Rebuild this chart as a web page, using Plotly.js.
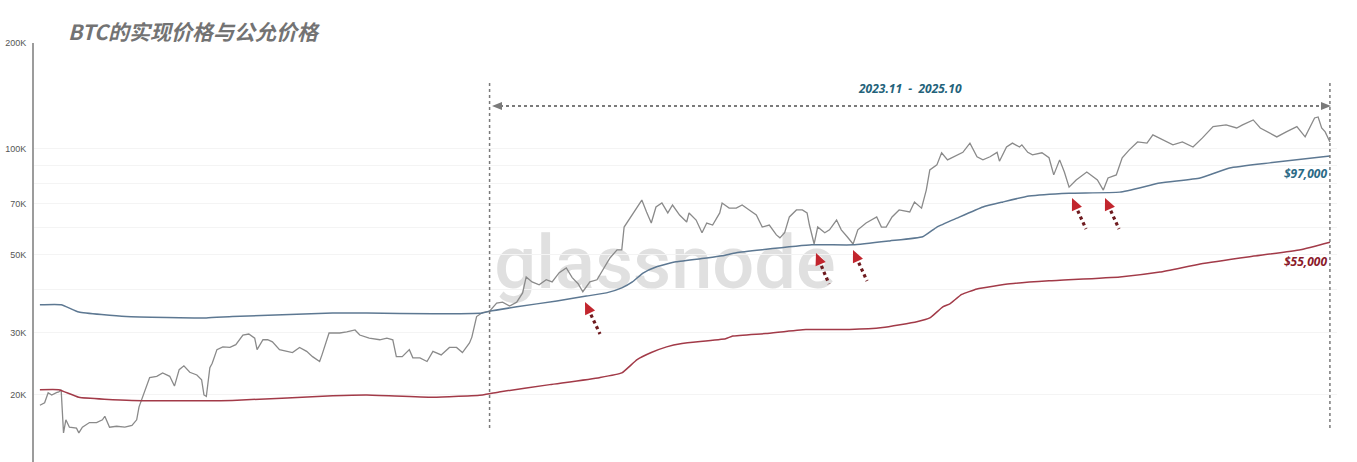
<!DOCTYPE html>
<html>
<head>
<meta charset="utf-8">
<script src="https://cdn.plot.ly/plotly-3.0.1.min.js"></script>
<style>
  html, body { margin: 0; padding: 0; background: #ffffff; }
  #chart { width: 1357px; height: 462px; }
</style>
</head>
<body>
<div id="chart"></div>
<script>
// ---------------- data ----------------
const chartTitle = 'BTC的实现价格与公允价格';
const periodLabel = '2023.11  -  2025.10';
const periodStart = '2023-11-06';
const periodEnd = '2025-10-18';

const yTickValues = [20000, 30000, 50000, 70000, 100000, 200000];
const yTickLabels = ['20K', '30K', '50K', '70K', '100K', '200K'];
const yGridValues = [20000, 30000, 40000, 50000, 60000, 70000, 80000, 90000, 100000, 200000];

// BTC price (grey)
const priceDates = [
  '2022-10-21','2022-10-25','2022-10-28','2022-10-31','2022-11-04','2022-11-06','2022-11-08','2022-11-09','2022-11-10','2022-11-12',
  '2022-11-15','2022-11-21','2022-11-23','2022-11-26','2022-12-02','2022-12-08','2022-12-13','2022-12-15','2022-12-19','2022-12-25',
  '2023-01-01','2023-01-07','2023-01-11','2023-01-13','2023-01-18','2023-01-22','2023-01-28','2023-02-02','2023-02-08','2023-02-12',
  '2023-02-16','2023-02-20','2023-02-25','2023-03-03','2023-03-07','2023-03-09','2023-03-11','2023-03-14','2023-03-16','2023-03-20',
  '2023-03-25','2023-03-31','2023-04-05','2023-04-11','2023-04-16','2023-04-21','2023-04-23','2023-04-28','2023-05-02','2023-05-06',
  '2023-05-12','2023-05-18','2023-05-23','2023-05-29','2023-06-04','2023-06-09','2023-06-15','2023-06-17','2023-06-23','2023-07-02',
  '2023-07-08','2023-07-15','2023-07-19','2023-07-27','2023-08-05','2023-08-11','2023-08-16','2023-08-19','2023-08-24','2023-08-30',
  '2023-09-02','2023-09-08','2023-09-14','2023-09-19','2023-09-26','2023-10-03','2023-10-09','2023-10-14','2023-10-20','2023-10-22',
  '2023-10-26','2023-10-31','2023-11-06','2023-11-12','2023-11-17','2023-11-23','2023-11-29','2023-12-04','2023-12-07','2023-12-12',
  '2023-12-18','2023-12-24','2023-12-29','2024-01-04','2024-01-10','2024-01-15','2024-01-20','2024-01-24','2024-01-30','2024-02-05',
  '2024-02-10','2024-02-16','2024-02-22','2024-02-26','2024-02-28','2024-03-04','2024-03-08','2024-03-10','2024-03-14','2024-03-18',
  '2024-03-22','2024-03-26','2024-03-31','2024-04-05','2024-04-09','2024-04-15','2024-04-21','2024-04-23','2024-04-29','2024-05-04',
  '2024-05-08','2024-05-13','2024-05-19','2024-05-21','2024-05-27','2024-06-02','2024-06-07','2024-06-13','2024-06-19','2024-06-24',
  '2024-06-30','2024-07-06','2024-07-09','2024-07-13','2024-07-17','2024-07-23','2024-07-28','2024-08-01','2024-08-03','2024-08-07',
  '2024-08-10','2024-08-16','2024-08-20','2024-08-26','2024-08-30','2024-09-04','2024-09-09','2024-09-13','2024-09-20','2024-09-29',
  '2024-10-03','2024-10-07','2024-10-12','2024-10-18','2024-10-27','2024-10-31','2024-11-06','2024-11-10','2024-11-13','2024-11-19',
  '2024-11-23','2024-11-28','2024-12-06','2024-12-11','2024-12-17','2024-12-23','2024-12-28','2025-01-03','2025-01-09','2025-01-11',
  '2025-01-17','2025-01-22','2025-01-28','2025-01-30','2025-02-04','2025-02-08','2025-02-16','2025-02-22','2025-02-26','2025-03-03',
  '2025-03-07','2025-03-11','2025-03-17','2025-03-26','2025-04-04','2025-04-09','2025-04-13','2025-04-20','2025-04-25','2025-05-01',
  '2025-05-08','2025-05-16','2025-05-21','2025-05-29','2025-06-07','2025-06-15','2025-06-24','2025-07-02','2025-07-11','2025-07-22',
  '2025-07-31','2025-08-05','2025-08-14','2025-08-20','2025-08-26','2025-09-03','2025-09-11','2025-09-20','2025-09-27','2025-10-01',
  '2025-10-05','2025-10-08','2025-10-11','2025-10-14','2025-10-18'
];
const priceValues = [
  18700,19000,20300,20000,20300,20400,20700,17900,15600,17000,
  16200,16100,15600,16200,16700,16700,17000,17400,16200,16300,
  16200,16400,17000,18500,20700,22400,22600,23100,22600,21200,
  23600,24200,23200,22800,22100,20000,19800,23900,24600,26900,
  27400,27300,27800,29600,29800,29000,26900,28700,28700,28300,
  26900,26600,26400,27300,26600,25700,24900,26000,30000,30000,
  30200,30600,29600,29000,28700,29000,28700,25700,25700,26900,
  25500,25500,24900,26600,26000,27300,27300,26400,28100,29200,
  33400,34300,34600,36500,36700,35800,36700,39000,43300,41900,
  41100,42500,41900,44500,45900,43100,41400,39300,41900,42500,
  45300,49000,51700,51700,60000,63600,67100,68400,71600,66200,
  61600,68400,70200,65800,69300,64900,62000,65800,62800,57800,
  61600,60800,65800,70200,67900,67900,69300,67100,64900,60000,
  60800,57000,55900,57800,64100,67100,67100,65800,60800,53700,
  60000,57800,58900,62800,58900,56300,53700,58900,61600,64100,
  60000,60000,64100,67100,66200,70700,67900,76400,87200,90100,
  97500,93100,96200,97800,103900,95000,93100,95000,97800,92300,
  101300,103900,101300,102700,97800,96200,97500,94400,84400,93100,
  86000,77900,81600,86000,81600,76400,82700,84400,94400,99400,
  104700,103900,109600,106100,102700,104700,101300,107500,115700,117000,
  114700,117000,120900,114700,111800,108200,111800,115700,108200,115700,
  122500,123300,114700,111800,104700
];

// fair price (blue)
const fairDates = [
  '2022-10-21','2022-11-08','2022-11-23','2023-01-02','2023-03-11','2023-04-02','2023-06-26','2023-07-25','2023-09-19','2023-10-31',
  '2023-11-06','2023-11-29','2024-01-02','2024-01-27','2024-02-13','2024-02-26','2024-03-06','2024-03-15','2024-03-26','2024-04-12',
  '2024-05-08','2024-05-21','2024-06-02','2024-06-24','2024-08-05','2024-09-09','2024-10-10','2024-11-07','2024-11-19','2024-12-06',
  '2024-12-28','2025-01-14','2025-02-05','2025-03-11','2025-04-23','2025-05-27','2025-06-30','2025-07-25','2025-08-28','2025-10-18'
];
const fairValues = [
  36100,36100,34400,33400,33100,33400,34200,34200,34000,34200,
  34600,35600,37000,38200,39000,40300,41900,44400,46200,47800,
  49000,49700,50700,51700,53400,53400,54800,56300,60000,63600,
  68400,70700,73500,74900,75400,80000,82700,88300,91300,95500
];

// realized price (red)
const realizedDates = [
  '2022-10-21','2022-11-06','2022-11-23','2023-01-07','2023-04-02','2023-06-26','2023-07-25','2023-09-19','2023-10-31','2023-11-14',
  '2023-12-27','2024-02-07','2024-02-26','2024-03-10','2024-03-22','2024-04-04','2024-04-17','2024-05-24','2024-05-30','2024-06-27',
  '2024-07-31','2024-09-06','2024-10-04','2024-11-02','2024-11-13','2024-11-24','2024-11-30','2024-12-10','2024-12-23','2025-01-20',
  '2025-02-22','2025-04-23','2025-05-27','2025-06-30','2025-08-11','2025-09-23','2025-10-18'
];
const realizedValues = [
  20700,20700,19700,19300,19300,19900,20000,19700,20000,20400,
  21400,22400,23100,25200,26400,27400,28000,28900,29400,29900,
  30700,30700,31100,32300,33100,35600,36300,38600,40000,41400,
  42200,43300,44700,47100,49400,51700,54300
];

const fairLabel = '$97,000';
const realizedLabel = '$55,000';

// ---------------- layout helpers ----------------
const W = 1357, H = 462;
const M = {l: 34, r: 20, t: 43, b: 0};
const PW = W - M.l - M.r, PH = H - M.t - M.b;
const px = x => (x - M.l) / PW;      // page pixel -> paper x
const py = y => (H - M.b - y) / PH;  // page pixel -> paper y

const traces = [
  {
    x: priceDates, y: priceValues, type: 'scatter', mode: 'lines', name: 'BTC价格',
    line: {color: '#8a8a8a', width: 1.3}, hoverinfo: 'x+y'
  },
  {
    x: fairDates, y: fairValues, type: 'scatter', mode: 'lines', name: '公允价格',
    line: {color: '#5d7892', width: 1.5, shape: 'spline', smoothing: 0.4}
  },
  {
    x: realizedDates, y: realizedValues, type: 'scatter', mode: 'lines', name: '实现价格',
    line: {color: '#a23a48', width: 1.5, shape: 'spline', smoothing: 0.4}
  }
];

const shapes = [
  // watermark (drawn below the lines)
  {
    type: 'rect', xref: 'paper', yref: 'paper', layer: 'below',
    x0: px(480), x1: px(850), y0: py(294), y1: py(220),
    line: {width: 0}, fillcolor: 'rgba(0,0,0,0)',
    label: {text: 'glassnode', textposition: 'middle center',
            font: {family: 'Roboto, Inter, sans-serif', size: 74, color: '#e0e0e0', weight: 500}}
  },
  // vertical dotted period markers
  {type: 'line', xref: 'x', yref: 'paper', x0: periodStart, x1: periodStart, y0: py(428), y1: py(82),
   line: {color: '#7a7a7a', width: 1.5, dash: 'dot'}},
  {type: 'line', xref: 'x', yref: 'paper', x0: periodEnd, x1: periodEnd, y0: py(428), y1: py(82),
   line: {color: '#7a7a7a', width: 1.5, dash: 'dot'}},
  // horizontal dotted double arrow
  {type: 'line', xref: 'paper', yref: 'paper', x0: px(500), x1: px(1322), y0: py(106), y1: py(106),
   line: {color: '#7a7a7a', width: 2.2, dash: 'dot'}},
  {type: 'path', xref: 'paper', yref: 'paper',
   path: `M${px(492)},${py(106)} L${px(502)},${py(102)} L${px(502)},${py(110)} Z`,
   fillcolor: '#7a7a7a', line: {width: 0}},
  {type: 'path', xref: 'paper', yref: 'paper',
   path: `M${px(1331)},${py(106)} L${px(1321)},${py(102)} L${px(1321)},${py(110)} Z`,
   fillcolor: '#7a7a7a', line: {width: 0}}
];

// red dotted arrows: tip and tail in page pixels
const arrowGeom = [
  {tip: [585, 302], tail: [600, 334]},
  {tip: [816, 253], tail: [829, 284]},
  {tip: [853, 250], tail: [867, 281]},
  {tip: [1072, 198], tail: [1086, 229]},
  {tip: [1105, 198], tail: [1119, 229]}
];
arrowGeom.forEach(a => {
  const dx = a.tail[0] - a.tip[0], dy = a.tail[1] - a.tip[1];
  const L = Math.hypot(dx, dy), ux = dx / L, uy = dy / L;
  const hl = 12, hw = 5.5;
  const bx = a.tip[0] + ux * hl, by = a.tip[1] + uy * hl;
  shapes.push({type: 'line', xref: 'paper', yref: 'paper',
    x0: px(bx + ux * 2), y0: py(by + uy * 2), x1: px(a.tail[0]), y1: py(a.tail[1]),
    line: {color: '#6e1a1e', width: 3.2, dash: 'dot'}});
  const lx = bx - uy * hw, ly = by + ux * hw, rx = bx + uy * hw, ry = by - ux * hw;
  shapes.push({type: 'path', xref: 'paper', yref: 'paper',
    path: `M${px(a.tip[0])},${py(a.tip[1])} L${px(lx)},${py(ly)} L${px(rx)},${py(ry)} Z`,
    fillcolor: '#c2262e', line: {width: 0}});
});

const annotations = [
  {text: '<b><i>' + chartTitle + '</i></b>', xref: 'paper', yref: 'paper', x: px(66), y: py(31),
   xanchor: 'left', yanchor: 'middle', showarrow: false,
   font: {family: '"Noto Sans CJK SC", "Noto Sans", sans-serif', size: 21, color: '#737373'}},
  {text: '<b><i>' + periodLabel + '</i></b>', xref: 'paper', yref: 'paper', x: px(910), y: py(89),
   xanchor: 'center', yanchor: 'middle', showarrow: false,
   font: {family: '"Open Sans", "DejaVu Sans", sans-serif', size: 12, color: '#23627a'}},
  {text: '<b><i>' + fairLabel + '</i></b>', xref: 'paper', yref: 'paper', x: px(1329), y: py(173),
   xanchor: 'right', yanchor: 'middle', showarrow: false,
   font: {family: '"Open Sans", "DejaVu Sans", sans-serif', size: 12, color: '#2b6a86'}},
  {text: '<b><i>' + realizedLabel + '</i></b>', xref: 'paper', yref: 'paper', x: px(1329), y: py(261),
   xanchor: 'right', yanchor: 'middle', showarrow: false,
   font: {family: '"Open Sans", "DejaVu Sans", sans-serif', size: 12, color: '#8a1a2a'}}
];

const layout = {
  width: W, height: H,
  margin: M,
  paper_bgcolor: '#ffffff', plot_bgcolor: '#ffffff',
  showlegend: false,
  xaxis: {
    type: 'date', range: ['2022-10-16', '2025-10-24'],
    showgrid: false, zeroline: false, showline: false, showticklabels: false, ticks: ''
  },
  yaxis: {
    type: 'log', range: [Math.log10(12900), Math.log10(200000)],
    tickmode: 'array', tickvals: yTickValues, ticktext: yTickLabels,
    tickfont: {family: '"Liberation Sans", Arial, sans-serif', size: 9, color: '#555555'},
    showgrid: false, zeroline: false,
    showline: true, linecolor: '#9c9c9c', linewidth: 2, ticks: '',
    ticklabelstandoff: 4,
    minor: {tickmode: 'array', tickvals: yGridValues, showgrid: true, gridcolor: '#f4f4f4', gridwidth: 1, ticks: ''}
  },
  shapes: shapes,
  annotations: annotations
};

Plotly.newPlot('chart', traces, layout, {displayModeBar: false, staticPlot: true});
</script>
</body>
</html>
